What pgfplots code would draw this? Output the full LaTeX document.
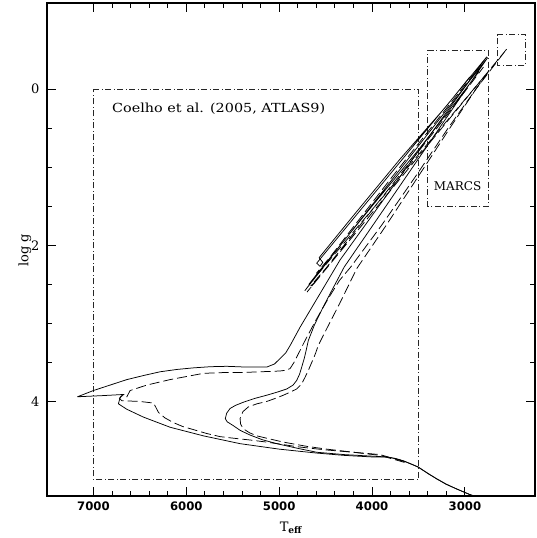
\documentclass[border=0pt]{standalone}
\usepackage{pgfplots}
\pgfplotsset{compat=1.18}
\usepackage{fontspec}
\setmainfont{DejaVu Serif}
\newfontfamily\widefont[FakeStretch=1.15]{DejaVu Serif}
\newfontfamily\ticksans{DejaVu Sans}
\begin{document}
\begin{tikzpicture}
\begin{axis}[
  scale only axis, width=488pt, height=493pt,
  xmin=2245, xmax=7500, ymin=-1.1, ymax=5.21,
  x dir=reverse, y dir=reverse,
  xtick={3000,4000,5000,6000,7000},
  xticklabels={3000,4000,5000,6000,7000},
  ytick={0,2,4}, yticklabels={0,2,4},
  minor x tick num=4, minor y tick num=3,
  tick align=inside, major tick length=9pt, minor tick length=5pt,
  axis line style={line width=1.3pt},
  every tick/.style={black, line width=0.8pt},
  yticklabel style={font=\fontsize{13}{15}\selectfont, xshift=-4pt},
  xticklabel style={font=\ticksans\bfseries\fontsize{11.7}{14}\selectfont, yshift=-2pt},
  xlabel={T\textsubscript{\bfseries eff}},
  ylabel={log g},
  every axis x label/.style={at={(axis description cs:0.5,0)}, anchor=north, yshift=-22pt, font=\fontsize{13}{15}\selectfont},
  every axis y label/.style={at={(axis description cs:0,0.5)}, anchor=center, rotate=90, yshift=22pt, xshift=-1pt, font=\fontsize{13}{15}\selectfont},
  iso/.style={black, line width=0.75pt, line join=round},
  isod/.style={black, line width=0.75pt, dash pattern=on 10pt off 4pt},
  box/.style={black!85, line width=0.6pt, dash pattern=on 6pt off 2.5pt on 1pt off 2.5pt},
]
% boxes
\addplot[box] coordinates {(7000,0) (3500,0) (3500,5.0) (7000,5.0) (7000,0)};
\addplot[box] coordinates {(3400,-0.5) (2750,-0.5) (2750,1.5) (3400,1.5) (3400,-0.5)};
\addplot[box] coordinates {(2650,-0.7) (2350,-0.7) (2350,-0.3) (2650,-0.3) (2650,-0.7)};
% solid young
\addplot[iso] coordinates {
(2850,5.23) (2950,5.19) (3088,5.12) (3200,5.06) (3304,4.99) (3400,4.92) (3502,4.84) (3580,4.80) (3663,4.76) (3750,4.73) (3842,4.71)
(4000,4.71) (4300,4.69) (4600,4.66) (5000,4.61) (5421,4.54) (5816,4.44) (6174,4.33) (6462,4.20) (6640,4.10) (6731,4.03)
(6715,3.96) (6690,3.92) (6670,3.91) (6900,3.925) (7172,3.94)
(7000,3.86) (6820,3.79) (6640,3.72) (6450,3.665) (6282,3.62) (6100,3.59) (5924,3.57) (5740,3.555) (5564,3.55) (5350,3.56) (5134,3.56)
(5050,3.52) (4990,3.45) (4930,3.38) (4880,3.28) (4775,3.05) (4660,2.82) (4560,2.62) (4450,2.40) (4345,2.19)
(3878,1.42) (3412,0.65) (3101,0.14) (2765,-0.41)
(4596,2.23) (4560,2.27) (4530,2.22) (4570,2.16)
(4200,1.62) (3700,0.90) (3200,0.22) (2950,-0.15)
};
% solid old
\addplot[iso] coordinates {
(2850,5.23) (2950,5.19) (3088,5.12) (3200,5.06) (3304,4.99) (3400,4.92) (3502,4.84) (3580,4.80) (3663,4.76) (3750,4.73) (3842,4.71)
(4000,4.70) (4300,4.68) (4595,4.65) (4800,4.60) (5026,4.54) (5180,4.49) (5313,4.43) (5420,4.37) (5493,4.31) (5560,4.26) (5580,4.22)
(5565,4.15) (5529,4.09) (5470,4.05) (5386,4.01) (5260,3.96) (5134,3.92) (5020,3.88) (4918,3.84) (4850,3.79) (4811,3.73) (4780,3.65)
(4757,3.56) (4730,3.45) (4710,3.35) (4686,3.22) (4620,3.02) (4530,2.80) (4420,2.55) (4300,2.28)
(3850,1.50) (3400,0.72) (3050,0.11) (2755,-0.40)
(4722,2.58) (4620,2.42) (4680,2.50)
(4560,2.32) (4000,1.50) (3500,0.78) (3100,0.17) (2850,-0.22)
};
% dashed young
\addplot[isod] coordinates {
(3650,4.77) (3800,4.72) (3913,4.68) (4200,4.65) (4500,4.62) (4800,4.58) (5134,4.52) (5300,4.495) (5493,4.47) (5636,4.45) (5780,4.41)
(5924,4.36) (6040,4.32) (6139,4.27) (6230,4.21) (6300,4.14) (6330,4.07) (6354,4.02) (6500,4.00) (6694,3.99) (6720,3.96) (6700,3.93)
(6660,3.92) (6640,3.94)
(6605,3.86) (6425,3.79) (6174,3.72) (5816,3.64) (5600,3.63) (5421,3.63) (5200,3.62) (4990,3.61) (4930,3.60) (4883,3.58) (4840,3.50)
(4793,3.39) (4721,3.22) (4600,2.95) (4470,2.68) (4350,2.45) (4230,2.28) (3900,1.75) (3520,1.10) (3180,0.50) (2748,-0.22)
(4640,2.45) (4560,2.32) (4600,2.36)
(4450,2.15) (3800,1.15) (3200,0.25) (2900,-0.20)
};
% dashed old
\addplot[isod] coordinates {
(3650,4.78) (3913,4.69) (4200,4.65) (4488,4.61) (4700,4.575) (4955,4.52) (5100,4.48) (5241,4.44) (5320,4.40) (5386,4.35) (5415,4.29)
(5421,4.22) (5390,4.13) (5332,4.07) (5240,4.03) (5134,4.00) (5040,3.96) (4955,3.92) (4880,3.88) (4811,3.84) (4760,3.78) (4721,3.69)
(4685,3.60) (4649,3.50) (4610,3.39) (4578,3.28) (4480,3.05) (4350,2.75) (4165,2.30) (3850,1.75) (3480,1.08) (3150,0.48) (2880,0.0) (2550,-0.51)
(4700,2.60) (4620,2.48) (4660,2.52)
(4500,2.30) (3900,1.40) (3300,0.50) (2800,-0.28)
};
\node[anchor=west, inner sep=0pt, font=\widefont\fontsize{12.5}{14}\selectfont] at (axis cs:6800,0.25) {Coelho et al. (2005, ATLAS9)};
\node[font=\fontsize{12}{14}\selectfont] at (axis cs:3078,1.25) {MARCS};
\end{axis}
\pgfresetboundingbox
\path[use as bounding box] (current axis.south west) ++(-47pt,-42pt) rectangle ++(536pt,538pt);
\end{tikzpicture}
\end{document}
